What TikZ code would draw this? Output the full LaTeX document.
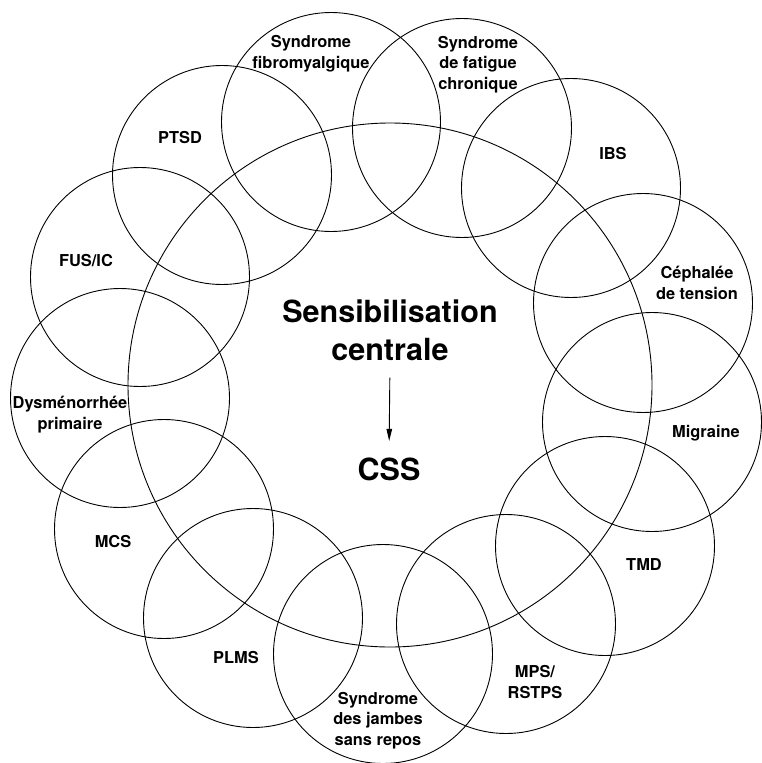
\documentclass[tikz,border=0pt]{standalone}
\usepackage{fontspec}
\setmainfont{TeX Gyre Heros}
\usetikzlibrary{arrows.meta,positioning}

\begin{document}
\begin{tikzpicture}[
        x=1pt, y=-1pt,
        every path/.style={line width=0.9pt},
        disease/.style={draw, circle, minimum size=219pt, inner sep=0pt},
        disname/.style={align=center, anchor=base, inner sep=0pt, font=\bfseries\fontsize{16.4}{20.5}\selectfont},
        bigname/.style={align=center, anchor=base, inner sep=0pt, font=\bfseries\fontsize{30.5}{38}\selectfont}
    ]
    \useasboundingbox (0,0) rectangle (761,763);

    % Central circle
    \node[disease, minimum size=524pt] (centre) at (390,385) {};

    % Circles
    \node[disease] (fibro)   at (331,122) {};
    \node[disease] (fatigue) at (462,128) {};
    \node[disease] (ibs)     at (571,188) {};
    \node[disease] (ceph)    at (643,303) {};
    \node[disease] (mig)     at (652,422) {};
    \node[disease] (tmd)     at (605,546) {};
    \node[disease] (mps)     at (506,624) {};
    \node[disease] (rls)     at (383,654) {};
    \node[disease] (plms)    at (253,618) {};
    \node[disease] (mcs)     at (164,529) {};
    \node[disease] (dys)     at (120,398) {};
    \node[disease] (fus)     at (140,277) {};
    \node[disease] (ptsd)    at (222,175) {};

    % Labels (base = last line)
    \node[disname] (fibrotext)   at (311,68)  {Syndrome\\fibromyalgique};
    \node[disname] (fatiguetext) at (478,89)  {Syndrome\\de fatigue\\chronique};
    \node[disname] (ibstext)     at (613,159) {IBS};
    \node[disname] (cephtext)    at (697,299) {Céphalée\\de tension};
    \node[disname] (migtext)     at (706,437) {Migraine};
    \node[disname] (tmdtext)     at (644,570) {TMD};
    \node[disname] (mpstext)     at (535,698) {MPS/\\RSTPS};
    \node[disname] (rlstext)     at (378,745) {Syndrome\\des jambes\\sans repos};
    \node[disname] (plmstext)    at (236,663) {PLMS};
    \node[disname] (mcstext)     at (113,547) {MCS};
    \node[disname] (dystext)     at (70,429)  {Dysménorrhée\\primaire};
    \node[disname] (fustext)     at (86,266)  {FUS/IC};
    \node[disname] (ptsdtext)    at (180,143) {PTSD};

    % Centre
    \node[bigname] (sens) at (390,360) {Sensibilisation\\centrale};
    \node[bigname] (cssword) at (389,480) {CSS};
    \draw[-{Triangle[length=12pt,width=5.5pt]}, shorten <=17pt, shorten >=16pt] (sens.south) -- (cssword.north);
\end{tikzpicture}
\end{document}
